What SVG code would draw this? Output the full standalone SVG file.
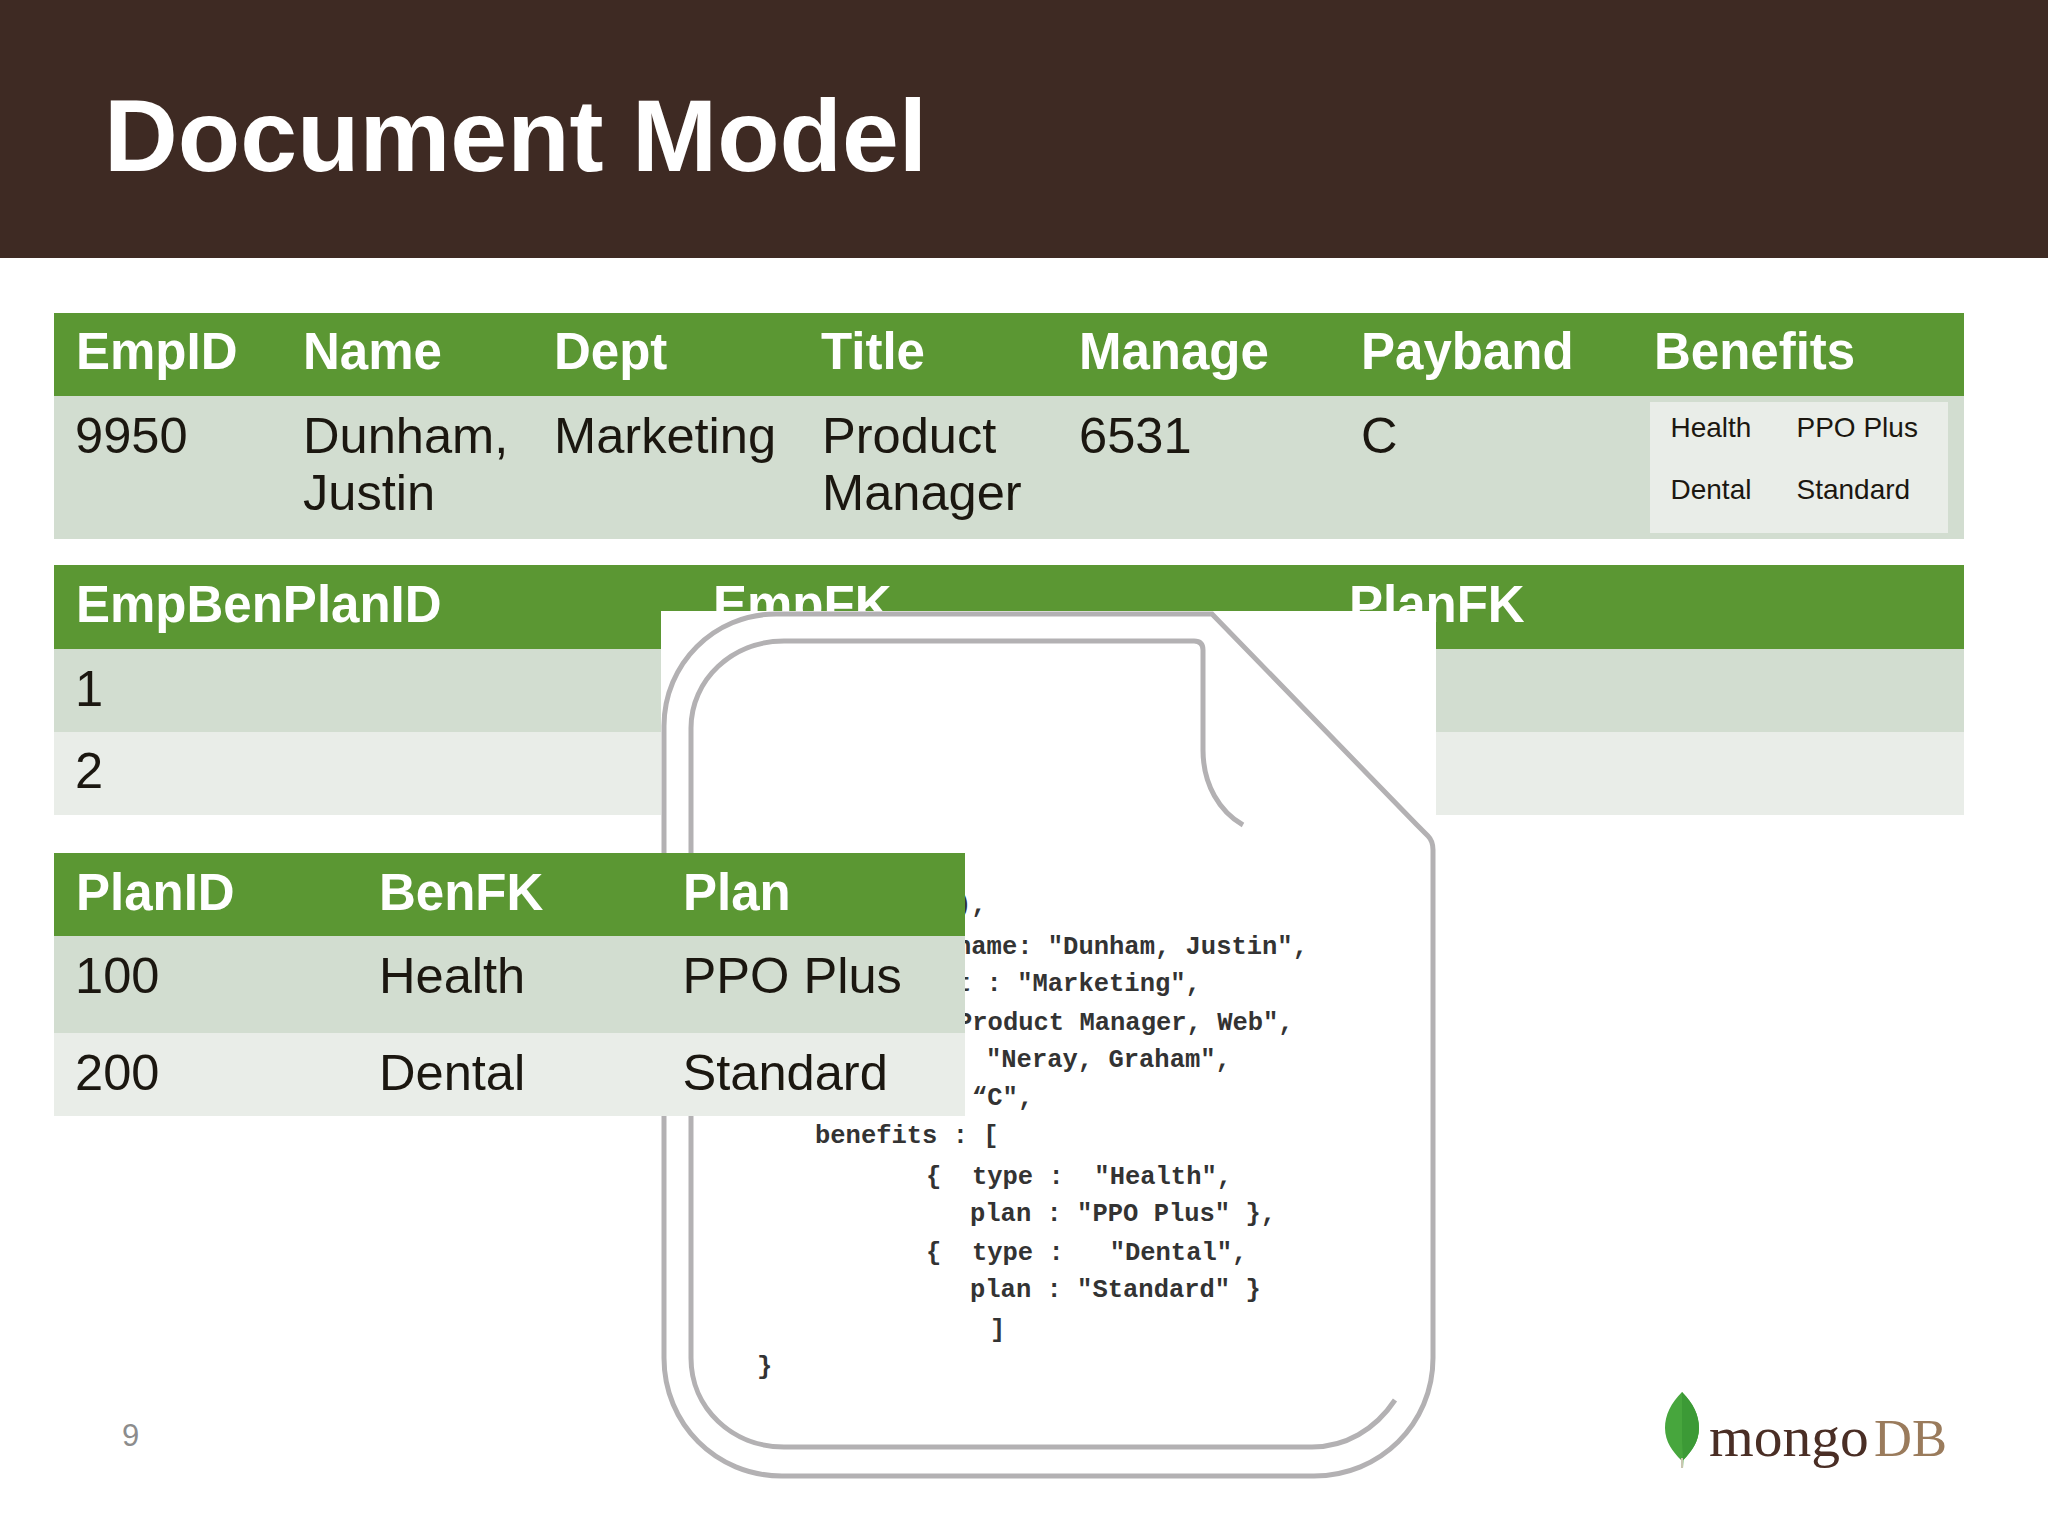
<svg xmlns="http://www.w3.org/2000/svg" width="2048" height="1536" viewBox="0 0 2048 1536">
<style>
text{font-family:"Liberation Sans",Arial,sans-serif}
.th{font-size:51px;font-weight:700;fill:#fff}
.td{font-size:50.600px;fill:#1b1710}
.sm{font-size:28px;fill:#1b1710}
.g{fill:#5b9733}.p{fill:#d2ddd0}.l{fill:#e9ede8}
.code{font-family:"Liberation Mono","Courier New",monospace;font-size:25.500px;font-weight:700;fill:#333;white-space:pre}
.doc{fill:none;stroke:#b3b1b3;stroke-width:5}
</style>
<rect width="2048" height="1536" fill="#fff"/>
<g id="header"><rect width="2048" height="258" fill="#3e2a23"/>
<text x="104" y="171" font-size="102.2" font-weight="700" fill="#fff">Document Model</text></g>
<g id="table-employee">
<rect class="g" x="54" y="313" width="1910" height="83"/><rect class="p" x="54" y="396" width="1910" height="143"/>
<text class="th" x="76" y="369">EmpID</text><text class="th" x="303" y="369">Name</text><text class="th" x="554" y="369">Dept</text><text class="th" x="821" y="369">Title</text><text class="th" x="1079" y="369">Manage</text><text class="th" x="1361" y="369">Payband</text><text class="th" x="1654" y="369">Benefits</text>
<text class="td" x="75" y="453">9950</text><text class="td" x="303" y="453">Dunham,</text><text class="td" x="303" y="510">Justin</text><text class="td" x="554" y="453">Marketing</text><text class="td" x="822" y="453">Product</text><text class="td" x="822" y="510">Manager</text><text class="td" x="1079" y="453">6531</text><text class="td" x="1361" y="453">C</text>
<rect class="l" x="1650" y="402" width="298" height="131"/>
<text class="sm" x="1670.500" y="437">Health</text><text class="sm" x="1796.500" y="437">PPO Plus</text><text class="sm" x="1670.500" y="499">Dental</text><text class="sm" x="1796.500" y="499">Standard</text>
</g>
<g id="table-empbenplan">
<rect class="g" x="54" y="565" width="1910" height="84"/><rect class="p" x="54" y="649" width="1910" height="83"/><rect class="l" x="54" y="732" width="1910" height="83"/>
<text class="th" x="76" y="622">EmpBenPlanID</text><text class="th" x="713" y="622">EmpFK</text><text class="th" x="1349" y="622">PlanFK</text>
<text class="td" x="75" y="706">1</text><text class="td" x="75" y="788">2</text>
</g>
<g id="document">
<rect x="661" y="611" width="775" height="890" fill="#fff"/>
<path class="doc" d="M664 1358V726C664 664 714 614 776 614H1212L1417 825L1428 836Q1433 841 1433 850V1358C1433 1424 1380 1476 1314 1476H782C716 1476 664 1424 664 1358Z"/>
<path class="doc" d="M1395 1400C1375 1430 1345 1447 1312 1447H784C732 1447 691 1408 691 1358V728C691 680 732 641 784 641H1194Q1203 641 1203 650V750C1203 785 1220 812 1243 825"/>
<text class="code" x="956" y="912">),</text>
<text class="code" x="956" y="954">name: "Dunham, Justin",</text>
<text class="code" x="956" y="991">t : "Marketing",</text>
<text class="code" x="957" y="1030">Product Manager, Web",</text>
<text class="code" x="986" y="1067">"Neray, Graham",</text>
<text class="code" x="972" y="1105">“C",</text>
<text class="code" x="815" y="1143">benefits : [</text>
<text class="code" x="926" y="1184">{  type :  "Health",</text>
<text class="code" x="970" y="1221">plan : "PPO Plus" },</text>
<text class="code" x="926" y="1260">{  type :   "Dental",</text>
<text class="code" x="970" y="1297">plan : "Standard" }</text>
<text class="code" x="990" y="1337">]</text>
<text class="code" x="757" y="1374">}</text>
</g>
<g id="table-plan">
<rect class="g" x="54" y="853" width="911" height="83"/><rect class="p" x="54" y="936" width="911" height="97"/><rect class="l" x="54" y="1033" width="911" height="83"/>
<text class="th" x="76" y="910">PlanID</text><text class="th" x="379" y="910">BenFK</text><text class="th" x="683" y="910">Plan</text>
<text class="td" x="75" y="993">100</text><text class="td" x="379" y="993">Health</text><text class="td" x="682.500" y="993">PPO Plus</text>
<text class="td" x="75" y="1090">200</text><text class="td" x="379" y="1090">Dental</text><text class="td" x="682.500" y="1090">Standard</text>
</g>
<text id="page-number" x="122" y="1446" font-size="31" fill="#8c8c8c">9</text>
<g id="logo">
<path d="M1682 1392C1671 1403 1665 1415 1665 1428C1665 1442 1673 1452 1681 1460L1681.500 1468H1683L1683.500 1460C1691 1452 1699 1442 1699 1428C1699 1415 1693 1403 1682 1392Z" fill="#47a63d"/>
<path d="M1682 1392C1693 1403 1699 1415 1699 1428C1699 1442 1691 1452 1683 1460L1682 1440Z" fill="#3c9a36"/>
<path d="M1682 1458V1468" stroke="#c9c6b0" stroke-width="2"/>
<text x="1709" y="1456" font-size="57.5" style="font-family:'Liberation Serif',serif" fill="#4a2e25">mongo</text>
<text x="1874" y="1456" font-size="52.5" style="font-family:'Liberation Serif',serif" fill="#9a7b5c">DB</text>
</g>
</svg>
